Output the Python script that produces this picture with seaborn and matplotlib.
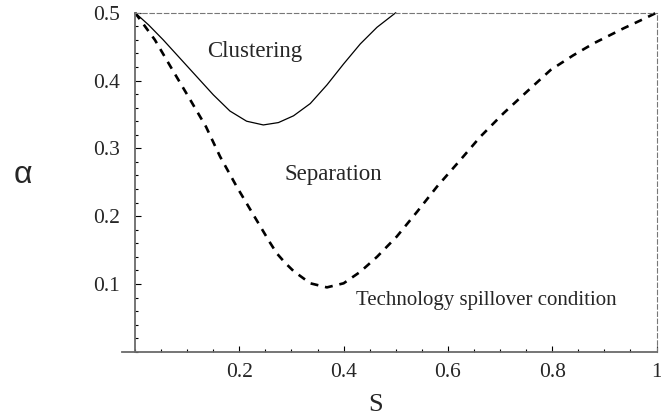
import matplotlib
matplotlib.use("Agg")
import matplotlib.pyplot as plt
from matplotlib.ticker import MultipleLocator, FixedLocator, FixedFormatter
import seaborn as sns
import pandas as pd

# ---- data ----
clust_s = [0.0, 0.026, 0.054, 0.086, 0.118, 0.150, 0.182, 0.214, 0.246, 0.275,
           0.304, 0.336, 0.368, 0.400, 0.432, 0.464, 0.500]
clust_a = [0.500, 0.482, 0.460, 0.433, 0.406, 0.379, 0.355, 0.340, 0.3345, 0.338,
           0.348, 0.366, 0.3935, 0.4245, 0.454, 0.4785, 0.500]

spill_s = [0.0, 0.038, 0.070, 0.104, 0.136, 0.163, 0.195, 0.227, 0.258, 0.272,
           0.288, 0.304, 0.336, 0.368, 0.400, 0.432, 0.464, 0.502, 0.541, 0.579,
           0.624, 0.662, 0.707, 0.752, 0.797, 0.840, 0.880, 0.937, 0.976, 1.0]
spill_a = [0.500, 0.460, 0.418, 0.374, 0.332, 0.288, 0.2435, 0.202, 0.162, 0.145,
           0.131, 0.119, 0.101, 0.095, 0.101, 0.118, 0.140, 0.170, 0.2066, 0.2435,
           0.283, 0.317, 0.352, 0.384, 0.4156, 0.437, 0.455, 0.477, 0.491, 0.500]

x_ticks = [0.2, 0.4, 0.6, 0.8, 1.0]
x_tick_labels = ["0.2", "0.4", "0.6", "0.8", "1"]
y_ticks = [0.1, 0.2, 0.3, 0.4, 0.5]
y_tick_labels = ["0.1", "0.2", "0.3", "0.4", "0.5"]

region_labels = ["Clustering", "Separation", "Technology spillover condition"]
region_pos_s = [0.230, 0.381, 0.674]
region_pos_a = [0.443, 0.262, 0.0752]
region_sizes = [16.5, 16.5, 15]

# ---- figure ----
sns.set_theme(style="white")
plt.rcParams["font.family"] = ["Liberation Serif", "DejaVu Serif"]

fig = plt.figure(figsize=(6.61, 4.18), dpi=100)
ax = fig.add_axes([122 / 661, (418 - 351.8) / 418, (656.5 - 122) / 661, (351.8 - 12.7) / 418])

df_c = pd.DataFrame({"s": clust_s, "a": clust_a})
df_p = pd.DataFrame({"s": spill_s, "a": spill_a})

sns.lineplot(data=df_c, x="s", y="a", ax=ax, color="black", lw=0.9,
             sort=False, estimator=None, clip_on=False,
             solid_joinstyle="round")
sns.lineplot(data=df_p, x="s", y="a", ax=ax, color="black", lw=1.9,
             sort=False, estimator=None, clip_on=False, dashes=False)
ax.lines[-1].set_dashes((3.0, 2.6))

ax.set_xlim(-0.025, 1.0)
ax.set_ylim(0, 0.5)

axis_col = "#6a6a6a"
ax.spines["left"].set_position(("data", 0))
ax.spines["left"].set_color(axis_col)
ax.spines["left"].set_linewidth(1.3)
ax.spines["bottom"].set_color(axis_col)
ax.spines["bottom"].set_linewidth(1.3)
for side in ["top", "right"]:
    ax.spines[side].set_visible(True)
    ax.spines[side].set_color("#777777")
    ax.spines[side].set_linewidth(0.8)
    ax.spines[side].set_linestyle((0, (4, 2.5)))
ax.spines["top"].set_bounds(0, 1)

ax.xaxis.set_major_locator(FixedLocator(x_ticks))
ax.xaxis.set_major_formatter(FixedFormatter(x_tick_labels))
ax.yaxis.set_major_locator(FixedLocator(y_ticks))
ax.yaxis.set_major_formatter(FixedFormatter(y_tick_labels))
ax.xaxis.set_minor_locator(MultipleLocator(0.05))
ax.yaxis.set_minor_locator(MultipleLocator(0.02))

ax.tick_params(which="both", direction="in", color="black", width=0.8,
               bottom=True, left=True, top=False, right=False)
ax.tick_params(which="major", length=4.5, labelsize=15.5)
ax.tick_params(which="minor", length=2.5)
ax.tick_params(axis="y", which="major", pad=11)
ax.tick_params(axis="x", which="major", pad=8)

ax.set_xlabel("")
ax.set_ylabel("")

for lab, xs, ya, fs in zip(region_labels, region_pos_s, region_pos_a, region_sizes):
    ax.text(xs, ya, lab, ha="center", va="center", fontsize=fs)

fig.text(23 / 661, 1 - 175 / 418, "α", ha="center", va="center", fontsize=23,
         family=["Liberation Sans", "DejaVu Sans"])
fig.text(376 / 661, 1 - 405 / 418, "S", ha="center", va="center", fontsize=19)

fig.savefig("out.png", dpi=100)
